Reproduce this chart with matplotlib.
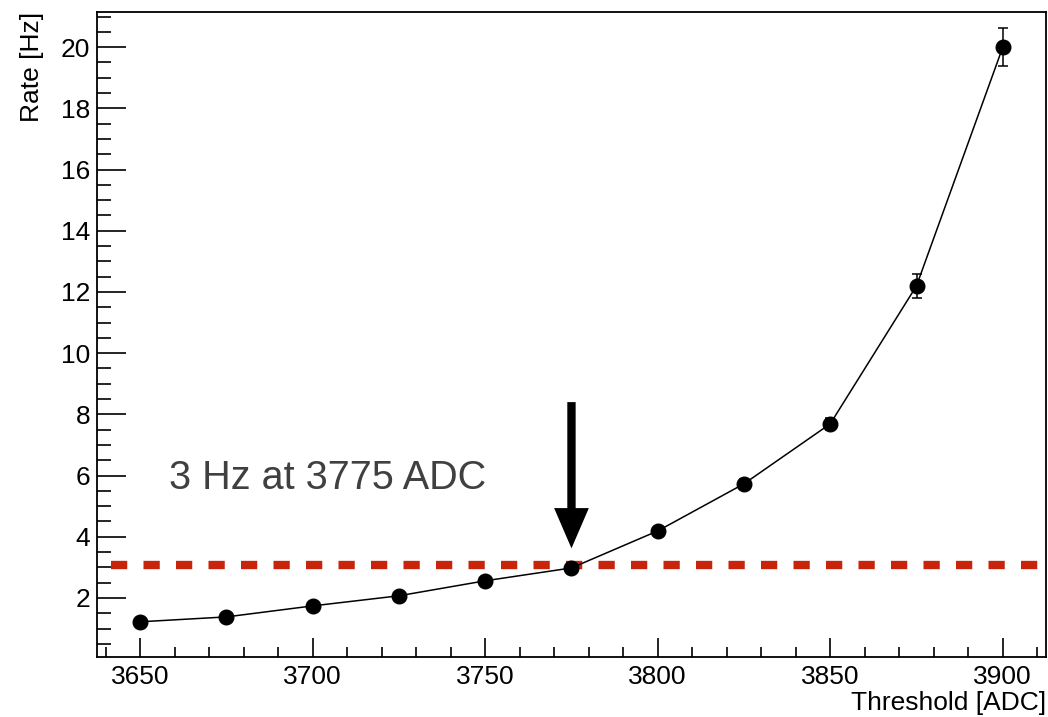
import numpy as np
import matplotlib.pyplot as plt
from matplotlib.ticker import MultipleLocator

threshold = [3650, 3675, 3700, 3725, 3750, 3775, 3800, 3825, 3850, 3875, 3900]
rate = [1.22, 1.38, 1.74, 2.07, 2.56, 2.98, 4.19, 5.73, 7.69, 12.2, 20.0]
rate_err = [0.05, 0.06, 0.07, 0.08, 0.09, 0.1, 0.12, 0.15, 0.2, 0.39, 0.62]

rate_cut = 3.08
thr_cut = 3775

plt.rcParams['font.family'] = ['Liberation Sans', 'DejaVu Sans']

fig = plt.figure(figsize=(10.48, 7.17), dpi=100)
ax = fig.add_axes([0.0926, 0.0837, 0.9054, 0.8996])

ax.errorbar(threshold, rate, yerr=rate_err, fmt='o-', color='black',
            markersize=10.5, lw=1.1, elinewidth=1.1, capsize=3.5, capthick=1.1, zorder=3)

ax.plot([3641.5, 3912.5], [rate_cut, rate_cut], color='#c8230b', lw=6,
        dashes=(1.95, 1.95), solid_capstyle='butt', dash_capstyle='butt', zorder=2)

ax.annotate('', xy=(thr_cut, 3.62), xytext=(thr_cut, 8.4),
            arrowprops=dict(arrowstyle='simple,head_width=2.5,head_length=2.9,tail_width=0.6',
                            color='black', lw=0, shrinkA=0, shrinkB=0), zorder=4)

ax.text(3658.4, 5.92, '3 Hz at 3775 ADC', fontsize=28.5, color='#404040', va='center', ha='left')

ax.set_xlim(3637.5, 3912.5)
ax.set_ylim(0.07, 21.15)

ax.xaxis.set_major_locator(MultipleLocator(50))
ax.xaxis.set_minor_locator(MultipleLocator(10))
ax.yaxis.set_major_locator(MultipleLocator(2))
ax.yaxis.set_minor_locator(MultipleLocator(0.5))
ax.set_yticks([2, 4, 6, 8, 10, 12, 14, 16, 18, 20])

ax.tick_params(axis='x', which='major', direction='in', length=14, width=1.2, labelsize=19, pad=6)
ax.tick_params(axis='x', which='minor', direction='in', length=7, width=1.2)
ax.tick_params(axis='y', which='major', direction='in', length=21, width=1.2, labelsize=19, pad=5)
ax.tick_params(axis='y', which='minor', direction='in', length=10, width=1.2)

for s in ax.spines.values():
    s.set_linewidth(1.3)

ax.set_xlabel('Threshold [ADC]', fontsize=19, loc='right', labelpad=1)
ax.set_ylabel('Rate [Hz]', fontsize=19, loc='top', labelpad=12)

fig.savefig('out.png', dpi=100)
